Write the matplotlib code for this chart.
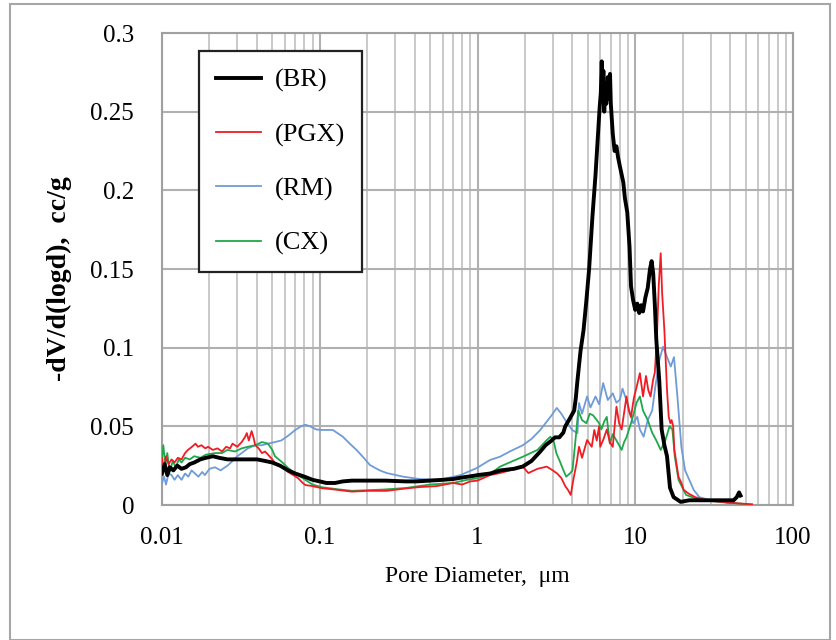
import numpy as np
import matplotlib
matplotlib.use("Agg")
import matplotlib.pyplot as plt
from matplotlib.patches import Rectangle
from matplotlib.ticker import FixedLocator, NullFormatter, LogLocator

plt.rcParams['font.family'] = ['Liberation Serif', 'DejaVu Serif']

labels = ["(BR)", "(PGX)", "(RM)", "(CX)"]
x_ticks = [0.01, 0.1, 1, 10, 100]
x_tick_labels = ["0.01", "0.1", "1", "10", "100"]
y_ticks = [0, 0.05, 0.1, 0.15, 0.2, 0.25, 0.3]
y_tick_labels = ["0", "0.05", "0.1", "0.15", "0.2", "0.25", "0.3"]

br_x = [0.0100, 0.0104, 0.0108, 0.0112, 0.0118, 0.0125, 0.0133, 0.0142, 0.0150, 0.0160,
        0.0175, 0.0190, 0.0210, 0.0230, 0.0260, 0.0300, 0.0350, 0.0400, 0.0450, 0.0500,
        0.0560, 0.0630, 0.0700, 0.0800, 0.0900, 0.1000, 0.1100, 0.1250, 0.1400, 0.1600,
        0.2000, 0.2600, 0.3500, 0.4100, 0.5000, 0.6000, 0.7000, 0.8000, 0.9400, 1.0000,
        1.2000, 1.4000, 1.7000, 1.9400, 2.2000, 2.5000, 2.7000, 2.9500, 3.1000, 3.3000,
        3.5000, 3.6000, 3.8000, 4.1000, 4.2000, 4.3000, 4.5000, 4.7000, 4.9000, 5.1000,
        5.35, 5.6, 5.95, 6.05, 6.13, 6.2, 6.28, 6.36, 6.45, 6.55, 6.7, 6.8, 6.92, 7.0,
        7.2, 7.4, 7.6, 7.78, 8.0, 8.2, 8.4, 8.6, 8.9, 9.2, 9.4, 9.7, 10.0, 10.3, 10.6,
        10.9, 11.2, 11.6, 12.0, 12.4, 12.7, 13.0, 13.3, 13.6, 14.2, 14.7, 15.3, 15.9,
        16.6, 17.5, 19.4, 22, 30, 38, 42, 44, 45.5, 46.5]
br_y = [0.020, 0.026, 0.019, 0.024, 0.022, 0.025, 0.023, 0.024, 0.026, 0.027,
        0.029, 0.030, 0.031, 0.030, 0.029, 0.029, 0.029, 0.029, 0.028, 0.027,
        0.025, 0.022, 0.020, 0.018, 0.016, 0.015, 0.014, 0.014, 0.015, 0.0155,
        0.0155, 0.0155, 0.015, 0.015, 0.0155, 0.016, 0.0165, 0.0175, 0.0185, 0.019,
        0.020, 0.022, 0.023, 0.0245, 0.028, 0.034, 0.038, 0.041, 0.043, 0.043,
        0.046, 0.050, 0.054, 0.060, 0.068, 0.079, 0.098, 0.111, 0.130, 0.150,
        0.183, 0.21, 0.253, 0.262, 0.282, 0.258, 0.276, 0.25, 0.268, 0.255, 0.272, 0.258, 0.274, 0.255,
        0.236, 0.225, 0.228, 0.221, 0.215, 0.210, 0.205, 0.195, 0.186, 0.164, 0.139, 0.130, 0.124, 0.128, 0.122,
        0.127, 0.123, 0.132, 0.138, 0.150, 0.155, 0.147, 0.128, 0.105, 0.079, 0.048, 0.038, 0.031,
        0.011, 0.005, 0.002, 0.003, 0.003, 0.003, 0.003, 0.005, 0.008, 0.006]

pgx_x = [0.0100, 0.0103, 0.0106, 0.0110, 0.0115, 0.0120, 0.0126, 0.0133, 0.0140, 0.0146,
         0.0155, 0.0163, 0.0169, 0.0178, 0.0188, 0.0196, 0.0210, 0.0225, 0.0240, 0.0255,
         0.0270, 0.0280, 0.0300, 0.0320, 0.0335, 0.0345, 0.0355, 0.0370, 0.0380, 0.0390,
         0.0410, 0.0430, 0.0450, 0.0470, 0.0500, 0.0520, 0.0560, 0.0600, 0.0630, 0.0680,
         0.0730, 0.0780, 0.0810, 0.0900, 0.1030, 0.1200, 0.1600, 0.2000, 0.2660, 0.3500,
         0.4300, 0.5500, 0.7000, 0.8000, 0.9000, 1.0000, 1.2000, 1.3900, 1.6000, 1.9400,
         2.1000, 2.4000, 2.7500, 3.0000, 3.2000, 3.4000, 3.6000, 3.7500, 3.9000, 4.0500,
         4.2500, 4.4000, 4.6000, 4.9500, 5.3000, 5.5000, 5.7000, 5.9000, 6.0000, 6.3000,
         6.6000, 6.9000, 7.2000, 7.6000, 7.9000, 8.2000, 8.8000, 9.1000, 9.4000, 9.8000,
         10.2000, 10.7000, 11.2000, 11.7000, 12.1000, 12.5000, 13.0000, 13.3000, 13.7000, 14.1000,
         14.5000, 14.8000, 15.3000, 15.9000, 16.3000, 16.7000, 17.0000, 17.4000, 17.7000, 18.8000,
         19.6000, 20.3000, 22.0000, 24.0000, 28.0000, 35.0000, 45.0000, 55.0000]
pgx_y = [0.030, 0.022, 0.031, 0.026, 0.029, 0.027, 0.030, 0.029, 0.033, 0.035,
         0.037, 0.039, 0.037, 0.038, 0.036, 0.037, 0.035, 0.036, 0.034, 0.037,
         0.036, 0.039, 0.037, 0.040, 0.043, 0.0457, 0.041, 0.047, 0.043, 0.038,
         0.036, 0.033, 0.034, 0.032, 0.029, 0.0267, 0.025, 0.023, 0.021, 0.019,
         0.017, 0.014, 0.0127, 0.012, 0.0107, 0.010, 0.0085, 0.009, 0.009, 0.0105,
         0.0114, 0.012, 0.014, 0.013, 0.015, 0.0155, 0.019, 0.0203, 0.022, 0.0244,
         0.0203, 0.023, 0.0244, 0.022, 0.020, 0.0171, 0.012, 0.0095, 0.0064, 0.016,
         0.0267, 0.037, 0.030, 0.0413, 0.037, 0.0477, 0.041, 0.050, 0.037, 0.042,
         0.048, 0.040, 0.037, 0.0625, 0.052, 0.048, 0.069, 0.060, 0.056, 0.068,
         0.075, 0.0838, 0.069, 0.082, 0.073, 0.069, 0.080, 0.084, 0.105, 0.140,
         0.160, 0.135, 0.111, 0.073, 0.056, 0.052, 0.054, 0.050, 0.035, 0.018,
         0.014, 0.0095, 0.007, 0.005, 0.003, 0.002, 0.001, 0.0005]

rm_x = [0.0100, 0.0103, 0.0106, 0.0110, 0.0115, 0.0120, 0.0126, 0.0133, 0.0140, 0.0147,
        0.0154, 0.0162, 0.0170, 0.0180, 0.0187, 0.0200, 0.0217, 0.0235, 0.0260, 0.0280,
        0.0300, 0.0320, 0.0350, 0.0390, 0.0430, 0.0470, 0.0520, 0.0570, 0.0630, 0.0700,
        0.0760, 0.0810, 0.0870, 0.0950, 0.1030, 0.1210, 0.1400, 0.1550, 0.1710, 0.1900,
        0.2080, 0.2400, 0.2660, 0.3380, 0.4300, 0.5800, 0.7800, 0.9900, 1.2000, 1.3900,
        1.6000, 1.9400, 2.2000, 2.5000, 2.9500, 3.1800, 3.4000, 3.6000, 3.9800, 4.3000,
        4.4000, 4.6000, 4.9500, 5.2000, 5.6000, 5.9000, 6.2600, 6.7000, 7.2000, 7.6000,
        8.0000, 8.3000, 8.7000, 9.0000, 9.7000, 10.3000, 10.7000, 11.3000, 12.0000, 12.8000,
        13.4000, 14.2000, 15.0000, 15.9000, 16.8000, 17.6000, 18.5000, 19.6000, 20.7000, 23.5000,
        25.5000, 30.0000, 35.0000, 40.0000]
rm_y = [0.014, 0.018, 0.013, 0.020, 0.019, 0.016, 0.019, 0.016, 0.020, 0.018,
        0.022, 0.020, 0.018, 0.021, 0.019, 0.023, 0.024, 0.022, 0.025, 0.028,
        0.031, 0.033, 0.036, 0.038, 0.038, 0.039, 0.040, 0.041, 0.044, 0.0477,
        0.050, 0.051, 0.050, 0.048, 0.0477, 0.0477, 0.0434, 0.039, 0.035, 0.030,
        0.0254, 0.022, 0.0203, 0.018, 0.0165, 0.016, 0.019, 0.0235, 0.0286, 0.0307,
        0.034, 0.038, 0.042, 0.0477, 0.057, 0.0617, 0.058, 0.054, 0.0477, 0.0457,
        0.0648, 0.058, 0.069, 0.062, 0.069, 0.064, 0.0775, 0.0667, 0.071, 0.065,
        0.067, 0.074, 0.068, 0.063, 0.052, 0.056, 0.048, 0.0434, 0.054, 0.060,
        0.075, 0.092, 0.1006, 0.094, 0.088, 0.094, 0.069, 0.037, 0.022, 0.0095,
        0.005, 0.003, 0.002, 0.001]

cx_x = [0.0100, 0.0102, 0.0105, 0.0108, 0.0112, 0.0117, 0.0122, 0.0128, 0.0133, 0.0140,
        0.0150, 0.0160, 0.0175, 0.0190, 0.0217, 0.0240, 0.0260, 0.0290, 0.0320, 0.0350,
        0.0390, 0.0430, 0.0470, 0.0500, 0.0520, 0.0580, 0.0630, 0.0700, 0.0810, 0.0900,
        0.1030, 0.1300, 0.1600, 0.2500, 0.3500, 0.5000, 0.7000, 0.8500, 1.0000, 1.2000,
        1.3900, 1.9400, 2.4000, 2.7500, 2.9000, 3.0500, 3.1600, 3.3500, 3.5000, 3.6500,
        3.8500, 4.0000, 4.2000, 4.3500, 4.6000, 4.9000, 5.1500, 5.4000, 5.7000, 5.9000,
        6.1000, 6.3500, 6.6000, 6.9000, 7.2000, 7.6000, 7.9000, 8.2000, 8.5000, 8.8000,
        9.4000, 10.2000, 10.7000, 11.2000, 12.0000, 12.8000, 13.6000, 14.5000, 15.5000, 16.5000,
        17.2000, 17.8000, 18.8000, 21.0000, 26.0000, 35.0000, 51.0000]
cx_y = [0.030, 0.038, 0.025, 0.033, 0.021, 0.028, 0.024, 0.029, 0.027, 0.030,
        0.029, 0.031, 0.030, 0.032, 0.033, 0.033, 0.035, 0.034, 0.036, 0.037,
        0.038, 0.040, 0.039, 0.035, 0.031, 0.027, 0.0235, 0.020, 0.016, 0.013,
        0.0113, 0.010, 0.009, 0.0098, 0.0108, 0.013, 0.014, 0.0159, 0.017, 0.0197,
        0.0244, 0.0307, 0.035, 0.0413, 0.0434, 0.040, 0.033, 0.027, 0.0222, 0.018,
        0.020, 0.022, 0.0434, 0.060, 0.054, 0.052, 0.058, 0.057, 0.054, 0.052,
        0.048, 0.053, 0.056, 0.039, 0.045, 0.041, 0.038, 0.035, 0.040, 0.043,
        0.052, 0.065, 0.069, 0.060, 0.054, 0.046, 0.041, 0.035, 0.041, 0.050,
        0.048, 0.031, 0.016, 0.0064, 0.003, 0.002, 0.0005]

fig = plt.figure(figsize=(8.36, 6.4), dpi=100)
fig.patches.append(Rectangle((10 / 836, 0.0), 820 / 836, 1 - 4 / 640, transform=fig.transFigure,
                             fill=False, edgecolor='#a6a6a6', linewidth=1.5))
ax = fig.add_axes([162 / 836, 1 - 505 / 640, 631 / 836, 472 / 640])

l_rm, = ax.plot(rm_x, rm_y, color='#6f9bd8', lw=1.3, zorder=3)
l_cx, = ax.plot(cx_x, cx_y, color='#1fa84a', lw=1.3, zorder=4)
l_pgx, = ax.plot(pgx_x, pgx_y, color='#f01c24', lw=1.3, zorder=5)
l_br, = ax.plot(br_x, br_y, color='black', lw=2.8, zorder=6)

ax.set_xscale('log')
ax.set_xlim(0.01, 100)
ax.set_ylim(0, 0.3)
ax.xaxis.set_major_locator(FixedLocator(x_ticks))
ax.set_xticklabels(x_tick_labels)
ax.xaxis.set_minor_locator(LogLocator(base=10, subs=np.arange(2, 10)))
ax.xaxis.set_minor_formatter(NullFormatter())
ax.set_yticks(y_ticks)
ax.set_yticklabels(y_tick_labels)

ax.grid(True, which='major', axis='both', color='#b0b0b0', lw=1.5)
ax.grid(True, which='minor', axis='x', color='#c0c0c0', lw=1.2)
ax.set_axisbelow(True)
for s in ax.spines.values():
    s.set_color('#a0a0a0')
    s.set_linewidth(1.5)
ax.tick_params(which='both', length=0, labelsize=18)
ax.tick_params(axis='y', pad=20)
ax.tick_params(axis='x', pad=16)

ax.set_xlabel('Pore Diameter,  \u03bcm', fontsize=17, labelpad=12)
ax.set_ylabel('-dV/d(logd),  cc/g', fontsize=20, fontweight='bold', labelpad=10)
ax.yaxis.set_label_coords(-0.143, 0.48)

leg = ax.legend([l_br, l_pgx, l_rm, l_cx], labels, loc='upper left',
                bbox_to_anchor=(0.059, 0.961), borderaxespad=0, fontsize=19,
                frameon=True, fancybox=False, edgecolor='#222222', framealpha=1,
                handlelength=1.7, handletextpad=0.5, labelspacing=1.15, borderpad=0.65)
leg.get_frame().set_linewidth(1.6)

fig.savefig('out.png', dpi=100)
